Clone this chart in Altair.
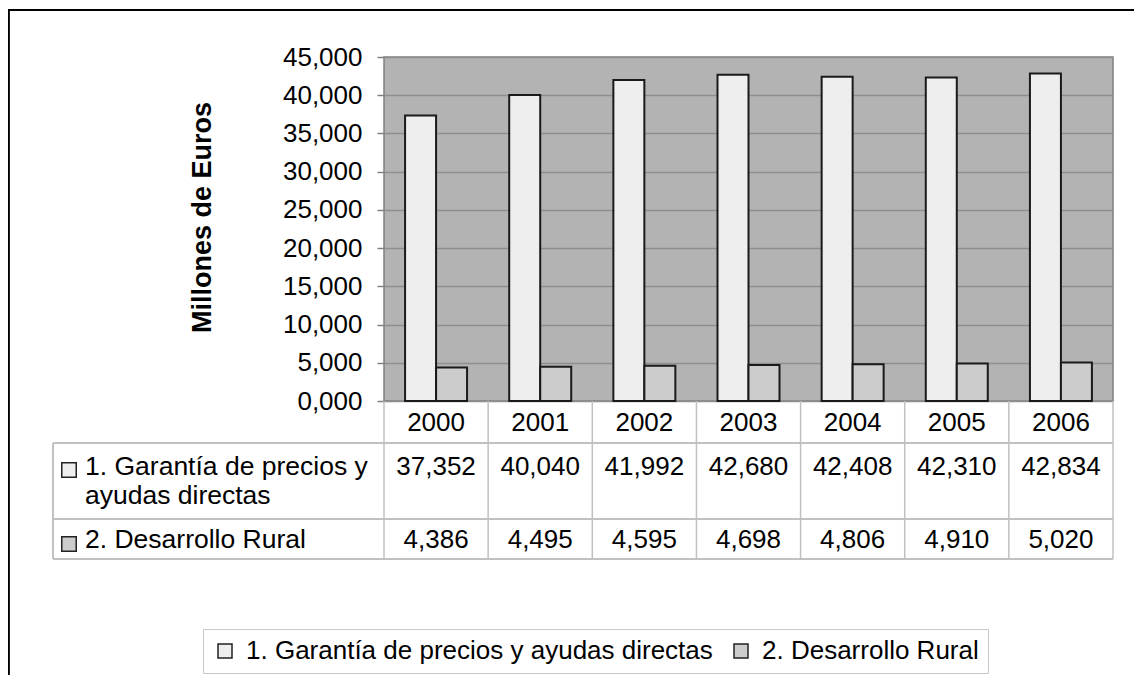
import altair as alt
import pandas as pd

# ---- data ----
years = ["2000", "2001", "2002", "2003", "2004", "2005", "2006"]
series = ["1. Garantía de precios y ayudas directas", "2. Desarrollo Rural"]
row_headers = ["1. Garantía de precios y\nayudas directas", "2. Desarrollo Rural"]
garantia = [37.352, 40.040, 41.992, 42.680, 42.408, 42.310, 42.834]
desarrollo = [4.386, 4.495, 4.595, 4.698, 4.806, 4.910, 5.020]
y_ticks = [0, 5, 10, 15, 20, 25, 30, 35, 40, 45]
fills = ["#eeeeee", "#cccccc"]

FONT = "Liberation Sans"
W, H = 729, 344
PAD = {"left": 376, "top": 49, "right": 21, "bottom": 274}

rows = []
for i, y in enumerate(years):
    rows.append({"year": y, "serie": series[0], "valor": garantia[i]})
    rows.append({"year": y, "serie": series[1], "valor": desarrollo[i]})
df = pd.DataFrame(rows)
hdr = pd.DataFrame({"serie": series, "header": row_headers})
yrs = pd.DataFrame({"year": years})
last = pd.DataFrame({"year": years[-1:]})

fmt = "replace(format(datum.valor, '.3f'), '.', ',')"

xscale = alt.Scale(domain=years, paddingInner=0, paddingOuter=0)
fill_enc = alt.Fill(
    "serie:N",
    scale=alt.Scale(domain=series, range=fills),
    legend=alt.Legend(
        orient="none", legendX=-181, legendY=572, direction="horizontal",
        title=None, symbolType="square", symbolSize=196,
        symbolStrokeColor="#222222", symbolStrokeWidth=1.5,
        labelFont=FONT, labelFontSize=26, labelColor="#000000",
        labelOffset=8, columnPadding=15, padding=9,
        strokeColor="#c8c8c8", labelLimit=1000,
    ),
)

bars = alt.Chart(df).mark_bar(stroke="#1a1a1a", strokeWidth=2).encode(
    x=alt.X("year:O", scale=xscale, title=None,
            axis=alt.Axis(labelAngle=0, ticks=False, domain=False,
                          labelFont=FONT, labelFontSize=26, labelColor="#000000",
                          labelBaseline="alphabetic", labelPadding=29)),
    xOffset=alt.XOffset("serie:N", sort=series,
                        scale=alt.Scale(domain=series, paddingInner=0, paddingOuter=0.68)),
    y=alt.Y("valor:Q", scale=alt.Scale(domain=[0, 45], nice=False),
            axis=alt.Axis(values=y_ticks,
                          labelExpr="replace(format(datum.value, '.3f'), '.', ',')",
                          labelFont=FONT, labelFontSize=26, labelColor="#000000",
                          labelPadding=15, tickSize=7, tickColor="#808080", tickWidth=1.5,
                          domain=False, grid=True, gridColor="#8e8e8e", gridWidth=1.5,
                          title="Millones de Euros", titleFont=FONT, titleFontSize=27,
                          titleFontWeight="bold", titleColor="#000000",
                          titleAngle=270, titleX=-174, titleY=160,
                          titleBaseline="alphabetic", titleAlign="center")),
    fill=fill_enc,
)

gridc = "#c0c0c0"
vlines = alt.Chart(yrs).mark_rule(color=gridc, strokeWidth=1.5).encode(
    x=alt.X("year:O", scale=xscale, bandPosition=0),
    y=alt.value(H), y2=alt.value(502),
)
vlast = alt.Chart(last).mark_rule(color=gridc, strokeWidth=1.5).encode(
    x=alt.X("year:O", scale=xscale, bandPosition=1),
    y=alt.value(H), y2=alt.value(502),
)
hl1 = alt.Chart(yrs).mark_rule(color=gridc, strokeWidth=1.5).encode(
    x=alt.value(-331), x2=alt.value(W), y=alt.value(386))
hl2 = alt.Chart(yrs).mark_rule(color=gridc, strokeWidth=1.5).encode(
    x=alt.value(-331), x2=alt.value(W), y=alt.value(462))
hl3 = alt.Chart(yrs).mark_rule(color=gridc, strokeWidth=1.5).encode(
    x=alt.value(-331), x2=alt.value(W), y=alt.value(502))
vleft = alt.Chart(yrs).mark_rule(color=gridc, strokeWidth=1.5).encode(
    x=alt.value(-331), y=alt.value(386), y2=alt.value(502))

def value_row(s, ypix):
    return alt.Chart(df).transform_filter(
        alt.datum.serie == s
    ).transform_calculate(lab=fmt).mark_text(
        font=FONT, fontSize=26, color="#000000", baseline="alphabetic", align="center"
    ).encode(x=alt.X("year:O", scale=xscale), y=alt.value(ypix), text="lab:N")

vals1 = value_row(series[0], 418)
vals2 = value_row(series[1], 491)

def header_row(i, ypix, ysq):
    t = alt.Chart(hdr).transform_filter(alt.datum.serie == series[i]).mark_text(
        font=FONT, fontSize=26.5, color="#000000", baseline="alphabetic",
        align="left", lineBreak="\n", lineHeight=29,
    ).encode(x=alt.value(-299), y=alt.value(ypix), text="header:N")
    s = alt.Chart(hdr).transform_filter(alt.datum.serie == series[i]).mark_square(
        size=210, stroke="#222222", strokeWidth=1.5, opacity=1, filled=True,
    ).encode(x=alt.value(-315), y=alt.value(ysq), fill=fill_enc)
    return [t, s]

h1 = header_row(0, 418, 413)
h2 = header_row(1, 491, 487)

frame_top = alt.Chart(yrs).mark_rule(color="#000000", strokeWidth=1.5).encode(
    x=alt.value(-376), x2=alt.value(W + PAD["right"]), y=alt.value(-47))
frame_left = alt.Chart(yrs).mark_rule(color="#000000", strokeWidth=1.5).encode(
    x=alt.value(-375.5), y=alt.value(-47), y2=alt.value(H + PAD["bottom"]))

chart = alt.layer(
    bars, vlines, vlast, hl1, hl2, hl3, vleft, vals1, vals2, *h1, *h2,
    frame_top, frame_left,
).properties(
    width=W, height=H,
    autosize=alt.AutoSizeParams(type="none"),
    padding=PAD,
    background="#ffffff",
).configure_view(
    fill="#b3b3b3", stroke="#808080", strokeWidth=1.5,
)

chart.save("out.html", embed_options={"renderer": "svg", "actions": False})
